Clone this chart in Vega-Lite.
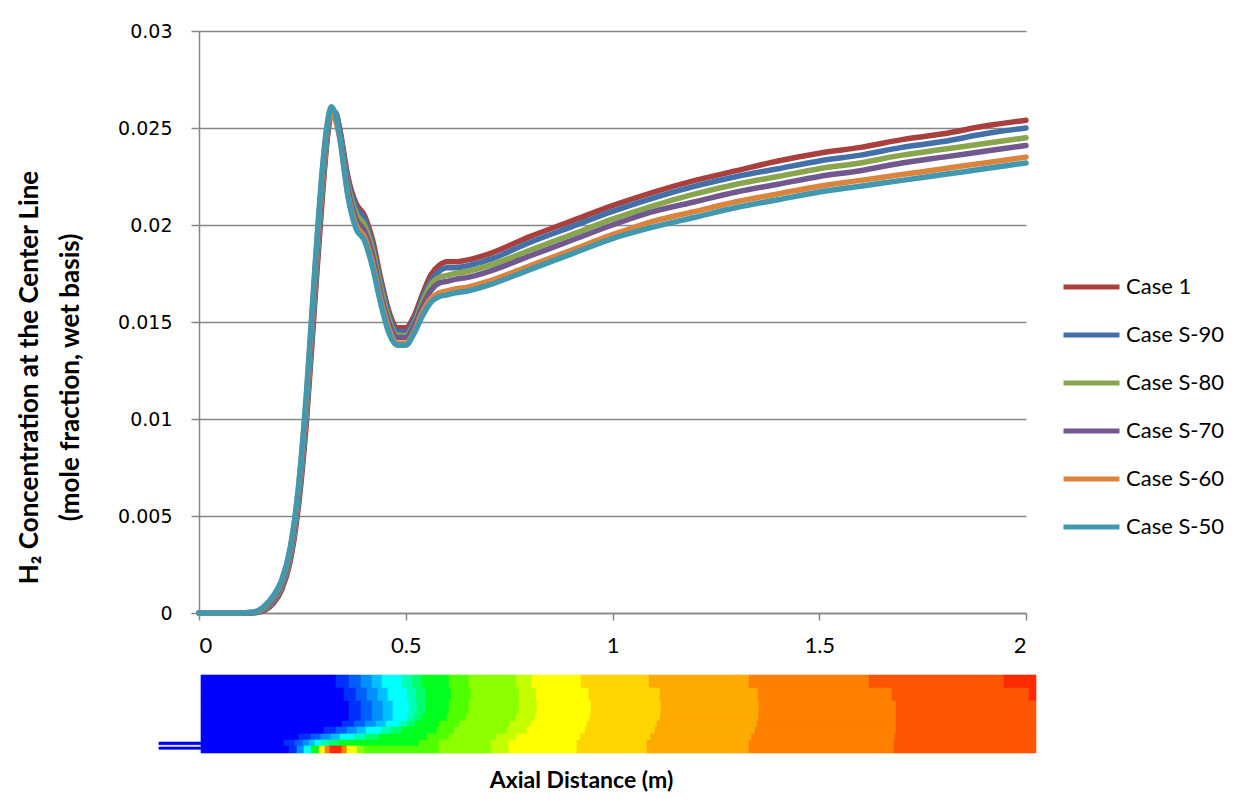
{
  "$schema": "https://vega.github.io/schema/vega-lite/v6.json",
  "padding": {"left": 16, "top": 22, "right": 0, "bottom": 0},
  "background": "white",
  "spacing": 18,
  "config": {"view": {"stroke": null}, "font": "Lato"},
  "datasets": {
    "h2": [
      {"x": 0, "Case 1": 0, "Case S-90": 0, "Case S-80": 0, "Case S-70": 0, "Case S-60": 0, "Case S-50": 0},
      {"x": 0.05, "Case 1": 0, "Case S-90": 0, "Case S-80": 0, "Case S-70": 0, "Case S-60": 0, "Case S-50": 0},
      {"x": 0.1, "Case 1": 0, "Case S-90": 0, "Case S-80": 0, "Case S-70": 0, "Case S-60": 0, "Case S-50": 0},
      {"x": 0.12, "Case 1": 0, "Case S-90": 0, "Case S-80": 0.00001, "Case S-70": 0.00001, "Case S-60": 0.00002, "Case S-50": 0.00002},
      {"x": 0.14, "Case 1": 0.00003, "Case S-90": 0.00004, "Case S-80": 0.00006, "Case S-70": 0.00007, "Case S-60": 0.00009, "Case S-50": 0.0001},
      {"x": 0.16, "Case 1": 0.00015, "Case S-90": 0.0002, "Case S-80": 0.00025, "Case S-70": 0.0003, "Case S-60": 0.00037, "Case S-50": 0.0004},
      {"x": 0.18, "Case 1": 0.0005, "Case S-90": 0.00057, "Case S-80": 0.00066, "Case S-70": 0.00073, "Case S-60": 0.00084, "Case S-50": 0.0009},
      {"x": 0.2, "Case 1": 0.0012, "Case S-90": 0.00129, "Case S-80": 0.0014, "Case S-70": 0.00149, "Case S-60": 0.00163, "Case S-50": 0.0017},
      {"x": 0.22, "Case 1": 0.0026, "Case S-90": 0.00273, "Case S-80": 0.00287, "Case S-70": 0.00301, "Case S-60": 0.0032, "Case S-50": 0.0033},
      {"x": 0.24, "Case 1": 0.0054, "Case S-90": 0.0056, "Case S-80": 0.0058, "Case S-70": 0.006, "Case S-60": 0.0063, "Case S-50": 0.0064},
      {"x": 0.26, "Case 1": 0.0099, "Case S-90": 0.0102, "Case S-80": 0.0105, "Case S-70": 0.0108, "Case S-60": 0.0112, "Case S-50": 0.0114},
      {"x": 0.28, "Case 1": 0.016, "Case S-90": 0.0163, "Case S-80": 0.0167, "Case S-70": 0.017, "Case S-60": 0.0175, "Case S-50": 0.0177},
      {"x": 0.3, "Case 1": 0.0219, "Case S-90": 0.0222, "Case S-80": 0.0224, "Case S-70": 0.0227, "Case S-60": 0.0231, "Case S-50": 0.0233},
      {"x": 0.31, "Case 1": 0.0244, "Case S-90": 0.0245, "Case S-80": 0.0247, "Case S-70": 0.0249, "Case S-60": 0.0251, "Case S-50": 0.0252},
      {"x": 0.32, "Case 1": 0.0257, "Case S-90": 0.0258, "Case S-80": 0.0259, "Case S-70": 0.0259, "Case S-60": 0.0257, "Case S-50": 0.0261},
      {"x": 0.33, "Case 1": 0.0258, "Case S-90": 0.0258, "Case S-80": 0.0258, "Case S-70": 0.0257, "Case S-60": 0.0254, "Case S-50": 0.0257},
      {"x": 0.34, "Case 1": 0.025, "Case S-90": 0.0249, "Case S-80": 0.0248, "Case S-70": 0.0248, "Case S-60": 0.0245, "Case S-50": 0.0246},
      {"x": 0.36, "Case 1": 0.0225, "Case S-90": 0.0223, "Case S-80": 0.0221, "Case S-70": 0.0219, "Case S-60": 0.0216, "Case S-50": 0.0215},
      {"x": 0.38, "Case 1": 0.0211, "Case S-90": 0.0209, "Case S-80": 0.0206, "Case S-70": 0.0203, "Case S-60": 0.02, "Case S-50": 0.0198},
      {"x": 0.4, "Case 1": 0.0205, "Case S-90": 0.0203, "Case S-80": 0.02, "Case S-70": 0.0197, "Case S-60": 0.0194, "Case S-50": 0.0192},
      {"x": 0.42, "Case 1": 0.0192, "Case S-90": 0.0189, "Case S-80": 0.0187, "Case S-70": 0.0184, "Case S-60": 0.018, "Case S-50": 0.0178},
      {"x": 0.44, "Case 1": 0.0172, "Case S-90": 0.017, "Case S-80": 0.0167, "Case S-70": 0.0164, "Case S-60": 0.0161, "Case S-50": 0.0159},
      {"x": 0.46, "Case 1": 0.0155, "Case S-90": 0.0153, "Case S-80": 0.0151, "Case S-70": 0.0149, "Case S-60": 0.0146, "Case S-50": 0.0144},
      {"x": 0.48, "Case 1": 0.0147, "Case S-90": 0.0145, "Case S-80": 0.0143, "Case S-70": 0.0142, "Case S-60": 0.0139, "Case S-50": 0.0138},
      {"x": 0.5, "Case 1": 0.0147, "Case S-90": 0.0145, "Case S-80": 0.0143, "Case S-70": 0.0142, "Case S-60": 0.0139, "Case S-50": 0.0138},
      {"x": 0.52, "Case 1": 0.0153, "Case S-90": 0.0151, "Case S-80": 0.0149, "Case S-70": 0.0148, "Case S-60": 0.0145, "Case S-50": 0.0144},
      {"x": 0.54, "Case 1": 0.0164, "Case S-90": 0.0162, "Case S-80": 0.016, "Case S-70": 0.0158, "Case S-60": 0.0155, "Case S-50": 0.0153},
      {"x": 0.56, "Case 1": 0.0174, "Case S-90": 0.0171, "Case S-80": 0.0169, "Case S-70": 0.0166, "Case S-60": 0.0162, "Case S-50": 0.016},
      {"x": 0.58, "Case 1": 0.0179, "Case S-90": 0.0176, "Case S-80": 0.0173, "Case S-70": 0.017, "Case S-60": 0.0165, "Case S-50": 0.0163},
      {"x": 0.6, "Case 1": 0.0181, "Case S-90": 0.0178, "Case S-80": 0.0174, "Case S-70": 0.0171, "Case S-60": 0.0166, "Case S-50": 0.0164},
      {"x": 0.62, "Case 1": 0.0181, "Case S-90": 0.0178, "Case S-80": 0.0175, "Case S-70": 0.0172, "Case S-60": 0.0167, "Case S-50": 0.0165},
      {"x": 0.65, "Case 1": 0.0182, "Case S-90": 0.0179, "Case S-80": 0.0176, "Case S-70": 0.0173, "Case S-60": 0.0168, "Case S-50": 0.0166},
      {"x": 0.7, "Case 1": 0.0185, "Case S-90": 0.0182, "Case S-80": 0.0179, "Case S-70": 0.0176, "Case S-60": 0.0171, "Case S-50": 0.0169},
      {"x": 0.8, "Case 1": 0.0194, "Case S-90": 0.0191, "Case S-80": 0.0187, "Case S-70": 0.0184, "Case S-60": 0.0179, "Case S-50": 0.0177},
      {"x": 0.9, "Case 1": 0.0202, "Case S-90": 0.0199, "Case S-80": 0.0195, "Case S-70": 0.0192, "Case S-60": 0.0187, "Case S-50": 0.0185},
      {"x": 1.0, "Case 1": 0.021, "Case S-90": 0.0207, "Case S-80": 0.0203, "Case S-70": 0.02, "Case S-60": 0.0195, "Case S-50": 0.0193},
      {"x": 1.1, "Case 1": 0.0217, "Case S-90": 0.0214, "Case S-80": 0.021, "Case S-70": 0.0207, "Case S-60": 0.0202, "Case S-50": 0.0199},
      {"x": 1.2, "Case 1": 0.0223, "Case S-90": 0.022, "Case S-80": 0.0216, "Case S-70": 0.0212, "Case S-60": 0.0207, "Case S-50": 0.0204},
      {"x": 1.3, "Case 1": 0.0228, "Case S-90": 0.0225, "Case S-80": 0.0221, "Case S-70": 0.0217, "Case S-60": 0.0212, "Case S-50": 0.0209},
      {"x": 1.4, "Case 1": 0.0233, "Case S-90": 0.0229, "Case S-80": 0.0225, "Case S-70": 0.0221, "Case S-60": 0.0216, "Case S-50": 0.0213},
      {"x": 1.5, "Case 1": 0.0237, "Case S-90": 0.0233, "Case S-80": 0.0229, "Case S-70": 0.0225, "Case S-60": 0.022, "Case S-50": 0.0217},
      {"x": 1.6, "Case 1": 0.024, "Case S-90": 0.0236, "Case S-80": 0.0232, "Case S-70": 0.0228, "Case S-60": 0.0223, "Case S-50": 0.022},
      {"x": 1.7, "Case 1": 0.0244, "Case S-90": 0.024, "Case S-80": 0.0236, "Case S-70": 0.0232, "Case S-60": 0.0226, "Case S-50": 0.0223},
      {"x": 1.8, "Case 1": 0.0247, "Case S-90": 0.0243, "Case S-80": 0.0239, "Case S-70": 0.0235, "Case S-60": 0.0229, "Case S-50": 0.0226},
      {"x": 1.9, "Case 1": 0.0251, "Case S-90": 0.0247, "Case S-80": 0.0242, "Case S-70": 0.0238, "Case S-60": 0.0232, "Case S-50": 0.0229},
      {"x": 2.0, "Case 1": 0.0254, "Case S-90": 0.025, "Case S-80": 0.0245, "Case S-70": 0.0241, "Case S-60": 0.0235, "Case S-50": 0.0232}
    ],
    "contour": [
      {"z0": 0.0048, "z1": 0.3313, "r0": 0.833, "r1": 1, "lvl": 0},
      {"z0": 0.3313, "z1": 0.3628, "r0": 0.833, "r1": 1, "lvl": 1},
      {"z0": 0.3628, "z1": 0.3918, "r0": 0.833, "r1": 1, "lvl": 2},
      {"z0": 0.3918, "z1": 0.4184, "r0": 0.833, "r1": 1, "lvl": 3},
      {"z0": 0.4184, "z1": 0.4426, "r0": 0.833, "r1": 1, "lvl": 4},
      {"z0": 0.4426, "z1": 0.4909, "r0": 0.833, "r1": 1, "lvl": 5},
      {"z0": 0.4909, "z1": 0.5151, "r0": 0.833, "r1": 1, "lvl": 6},
      {"z0": 0.5151, "z1": 0.5393, "r0": 0.833, "r1": 1, "lvl": 7},
      {"z0": 0.5393, "z1": 0.6046, "r0": 0.833, "r1": 1, "lvl": 8},
      {"z0": 0.6046, "z1": 0.653, "r0": 0.833, "r1": 1, "lvl": 9},
      {"z0": 0.653, "z1": 0.7666, "r0": 0.833, "r1": 1, "lvl": 10},
      {"z0": 0.7666, "z1": 0.8053, "r0": 0.833, "r1": 1, "lvl": 11},
      {"z0": 0.8053, "z1": 0.9238, "r0": 0.833, "r1": 1, "lvl": 12},
      {"z0": 0.9238, "z1": 1.0883, "r0": 0.833, "r1": 1, "lvl": 13},
      {"z0": 1.0883, "z1": 1.3301, "r0": 0.833, "r1": 1, "lvl": 14},
      {"z0": 1.3301, "z1": 1.6203, "r0": 0.833, "r1": 1, "lvl": 15},
      {"z0": 1.6203, "z1": 1.9468, "r0": 0.833, "r1": 1, "lvl": 16},
      {"z0": 1.9468, "z1": 2.0242, "r0": 0.833, "r1": 1, "lvl": 17},

      {"z0": 0.0048, "z1": 0.3507, "r0": 0.667, "r1": 0.833, "lvl": 0},
      {"z0": 0.3507, "z1": 0.3797, "r0": 0.667, "r1": 0.833, "lvl": 1},
      {"z0": 0.3797, "z1": 0.4063, "r0": 0.667, "r1": 0.833, "lvl": 2},
      {"z0": 0.4063, "z1": 0.4329, "r0": 0.667, "r1": 0.833, "lvl": 3},
      {"z0": 0.4329, "z1": 0.4571, "r0": 0.667, "r1": 0.833, "lvl": 4},
      {"z0": 0.4571, "z1": 0.503, "r0": 0.667, "r1": 0.833, "lvl": 5},
      {"z0": 0.503, "z1": 0.5248, "r0": 0.667, "r1": 0.833, "lvl": 6},
      {"z0": 0.5248, "z1": 0.549, "r0": 0.667, "r1": 0.833, "lvl": 7},
      {"z0": 0.549, "z1": 0.6094, "r0": 0.667, "r1": 0.833, "lvl": 8},
      {"z0": 0.6094, "z1": 0.6578, "r0": 0.667, "r1": 0.833, "lvl": 9},
      {"z0": 0.6578, "z1": 0.7739, "r0": 0.667, "r1": 0.833, "lvl": 10},
      {"z0": 0.7739, "z1": 0.815, "r0": 0.667, "r1": 0.833, "lvl": 11},
      {"z0": 0.815, "z1": 0.9432, "r0": 0.667, "r1": 0.833, "lvl": 12},
      {"z0": 0.9432, "z1": 1.1149, "r0": 0.667, "r1": 0.833, "lvl": 13},
      {"z0": 1.1149, "z1": 1.3519, "r0": 0.667, "r1": 0.833, "lvl": 14},
      {"z0": 1.3519, "z1": 1.6759, "r0": 0.667, "r1": 0.833, "lvl": 15},
      {"z0": 1.6759, "z1": 2.0073, "r0": 0.667, "r1": 0.833, "lvl": 16},
      {"z0": 2.0073, "z1": 2.0242, "r0": 0.667, "r1": 0.833, "lvl": 17},

      {"z0": 0.0048, "z1": 0.3628, "r0": 0.5, "r1": 0.667, "lvl": 0},
      {"z0": 0.3628, "z1": 0.3918, "r0": 0.5, "r1": 0.667, "lvl": 1},
      {"z0": 0.3918, "z1": 0.4184, "r0": 0.5, "r1": 0.667, "lvl": 2},
      {"z0": 0.4184, "z1": 0.445, "r0": 0.5, "r1": 0.667, "lvl": 3},
      {"z0": 0.445, "z1": 0.4692, "r0": 0.5, "r1": 0.667, "lvl": 4},
      {"z0": 0.4692, "z1": 0.5079, "r0": 0.5, "r1": 0.667, "lvl": 5},
      {"z0": 0.5079, "z1": 0.5272, "r0": 0.5, "r1": 0.667, "lvl": 6},
      {"z0": 0.5272, "z1": 0.549, "r0": 0.5, "r1": 0.667, "lvl": 7},
      {"z0": 0.549, "z1": 0.6046, "r0": 0.5, "r1": 0.667, "lvl": 8},
      {"z0": 0.6046, "z1": 0.653, "r0": 0.5, "r1": 0.667, "lvl": 9},
      {"z0": 0.653, "z1": 0.7739, "r0": 0.5, "r1": 0.667, "lvl": 10},
      {"z0": 0.7739, "z1": 0.8174, "r0": 0.5, "r1": 0.667, "lvl": 11},
      {"z0": 0.8174, "z1": 0.948, "r0": 0.5, "r1": 0.667, "lvl": 12},
      {"z0": 0.948, "z1": 1.1173, "r0": 0.5, "r1": 0.667, "lvl": 13},
      {"z0": 1.1173, "z1": 1.3543, "r0": 0.5, "r1": 0.667, "lvl": 14},
      {"z0": 1.3543, "z1": 1.6856, "r0": 0.5, "r1": 0.667, "lvl": 15},
      {"z0": 1.6856, "z1": 2.0242, "r0": 0.5, "r1": 0.667, "lvl": 16},

      {"z0": 0.0048, "z1": 0.3628, "r0": 0.41, "r1": 0.5, "lvl": 0},
      {"z0": 0.3628, "z1": 0.3918, "r0": 0.41, "r1": 0.5, "lvl": 1},
      {"z0": 0.3918, "z1": 0.4184, "r0": 0.41, "r1": 0.5, "lvl": 2},
      {"z0": 0.4184, "z1": 0.445, "r0": 0.41, "r1": 0.5, "lvl": 3},
      {"z0": 0.445, "z1": 0.4692, "r0": 0.41, "r1": 0.5, "lvl": 4},
      {"z0": 0.4692, "z1": 0.503, "r0": 0.41, "r1": 0.5, "lvl": 5},
      {"z0": 0.503, "z1": 0.52, "r0": 0.41, "r1": 0.5, "lvl": 6},
      {"z0": 0.52, "z1": 0.5393, "r0": 0.41, "r1": 0.5, "lvl": 7},
      {"z0": 0.5393, "z1": 0.5998, "r0": 0.41, "r1": 0.5, "lvl": 8},
      {"z0": 0.5998, "z1": 0.6457, "r0": 0.41, "r1": 0.5, "lvl": 9},
      {"z0": 0.6457, "z1": 0.7666, "r0": 0.41, "r1": 0.5, "lvl": 10},
      {"z0": 0.7666, "z1": 0.8126, "r0": 0.41, "r1": 0.5, "lvl": 11},
      {"z0": 0.8126, "z1": 0.9456, "r0": 0.41, "r1": 0.5, "lvl": 12},
      {"z0": 0.9456, "z1": 1.1149, "r0": 0.41, "r1": 0.5, "lvl": 13},
      {"z0": 1.1149, "z1": 1.3531, "r0": 0.41, "r1": 0.5, "lvl": 14},
      {"z0": 1.3531, "z1": 1.6856, "r0": 0.41, "r1": 0.5, "lvl": 15},
      {"z0": 1.6856, "z1": 2.0242, "r0": 0.41, "r1": 0.5, "lvl": 16},

      {"z0": 0.0048, "z1": 0.3458, "r0": 0.333, "r1": 0.41, "lvl": 0},
      {"z0": 0.3458, "z1": 0.3748, "r0": 0.333, "r1": 0.41, "lvl": 1},
      {"z0": 0.3748, "z1": 0.4015, "r0": 0.333, "r1": 0.41, "lvl": 2},
      {"z0": 0.4015, "z1": 0.4281, "r0": 0.333, "r1": 0.41, "lvl": 3},
      {"z0": 0.4281, "z1": 0.4522, "r0": 0.333, "r1": 0.41, "lvl": 4},
      {"z0": 0.4522, "z1": 0.4837, "r0": 0.333, "r1": 0.41, "lvl": 5},
      {"z0": 0.4837, "z1": 0.503, "r0": 0.333, "r1": 0.41, "lvl": 6},
      {"z0": 0.503, "z1": 0.5224, "r0": 0.333, "r1": 0.41, "lvl": 7},
      {"z0": 0.5224, "z1": 0.5804, "r0": 0.333, "r1": 0.41, "lvl": 8},
      {"z0": 0.5804, "z1": 0.6313, "r0": 0.333, "r1": 0.41, "lvl": 9},
      {"z0": 0.6313, "z1": 0.7521, "r0": 0.333, "r1": 0.41, "lvl": 10},
      {"z0": 0.7521, "z1": 0.8029, "r0": 0.333, "r1": 0.41, "lvl": 11},
      {"z0": 0.8029, "z1": 0.9383, "r0": 0.333, "r1": 0.41, "lvl": 12},
      {"z0": 0.9383, "z1": 1.1077, "r0": 0.333, "r1": 0.41, "lvl": 13},
      {"z0": 1.1077, "z1": 1.3495, "r0": 0.333, "r1": 0.41, "lvl": 14},
      {"z0": 1.3495, "z1": 1.6856, "r0": 0.333, "r1": 0.41, "lvl": 15},
      {"z0": 1.6856, "z1": 2.0242, "r0": 0.333, "r1": 0.41, "lvl": 16},

      {"z0": 0.0048, "z1": 0.3023, "r0": 0.244, "r1": 0.333, "lvl": 0},
      {"z0": 0.3023, "z1": 0.3313, "r0": 0.244, "r1": 0.333, "lvl": 1},
      {"z0": 0.3313, "z1": 0.3579, "r0": 0.244, "r1": 0.333, "lvl": 2},
      {"z0": 0.3579, "z1": 0.3821, "r0": 0.244, "r1": 0.333, "lvl": 3},
      {"z0": 0.3821, "z1": 0.4039, "r0": 0.244, "r1": 0.333, "lvl": 4},
      {"z0": 0.4039, "z1": 0.4401, "r0": 0.244, "r1": 0.333, "lvl": 5},
      {"z0": 0.4401, "z1": 0.4643, "r0": 0.244, "r1": 0.333, "lvl": 6},
      {"z0": 0.4643, "z1": 0.4909, "r0": 0.244, "r1": 0.333, "lvl": 7},
      {"z0": 0.4909, "z1": 0.5756, "r0": 0.244, "r1": 0.333, "lvl": 8},
      {"z0": 0.5756, "z1": 0.6167, "r0": 0.244, "r1": 0.333, "lvl": 9},
      {"z0": 0.6167, "z1": 0.7449, "r0": 0.244, "r1": 0.333, "lvl": 10},
      {"z0": 0.7449, "z1": 0.7933, "r0": 0.244, "r1": 0.333, "lvl": 11},
      {"z0": 0.7933, "z1": 0.9335, "r0": 0.244, "r1": 0.333, "lvl": 12},
      {"z0": 0.9335, "z1": 1.1028, "r0": 0.244, "r1": 0.333, "lvl": 13},
      {"z0": 1.1028, "z1": 1.3446, "r0": 0.244, "r1": 0.333, "lvl": 14},
      {"z0": 1.3446, "z1": 1.6856, "r0": 0.244, "r1": 0.333, "lvl": 15},
      {"z0": 1.6856, "z1": 2.0242, "r0": 0.244, "r1": 0.333, "lvl": 16},

      {"z0": 0.0048, "z1": 0.2418, "r0": 0.167, "r1": 0.244, "lvl": 0},
      {"z0": 0.2418, "z1": 0.2709, "r0": 0.167, "r1": 0.244, "lvl": 1},
      {"z0": 0.2709, "z1": 0.295, "r0": 0.167, "r1": 0.244, "lvl": 2},
      {"z0": 0.295, "z1": 0.3192, "r0": 0.167, "r1": 0.244, "lvl": 3},
      {"z0": 0.3192, "z1": 0.341, "r0": 0.167, "r1": 0.244, "lvl": 4},
      {"z0": 0.341, "z1": 0.3748, "r0": 0.167, "r1": 0.244, "lvl": 5},
      {"z0": 0.3748, "z1": 0.4039, "r0": 0.167, "r1": 0.244, "lvl": 6},
      {"z0": 0.4039, "z1": 0.4353, "r0": 0.167, "r1": 0.244, "lvl": 7},
      {"z0": 0.4353, "z1": 0.5514, "r0": 0.167, "r1": 0.244, "lvl": 8},
      {"z0": 0.5514, "z1": 0.6046, "r0": 0.167, "r1": 0.244, "lvl": 9},
      {"z0": 0.6046, "z1": 0.72, "r0": 0.167, "r1": 0.244, "lvl": 10},
      {"z0": 0.72, "z1": 0.768, "r0": 0.167, "r1": 0.244, "lvl": 11},
      {"z0": 0.768, "z1": 0.922, "r0": 0.167, "r1": 0.244, "lvl": 12},
      {"z0": 0.922, "z1": 1.092, "r0": 0.167, "r1": 0.244, "lvl": 13},
      {"z0": 1.092, "z1": 1.336, "r0": 0.167, "r1": 0.244, "lvl": 14},
      {"z0": 1.336, "z1": 1.683, "r0": 0.167, "r1": 0.244, "lvl": 15},
      {"z0": 1.683, "z1": 2.0242, "r0": 0.167, "r1": 0.244, "lvl": 16},

      {"z0": 0.0048, "z1": 0.2056, "r0": 0.09, "r1": 0.167, "lvl": 0},
      {"z0": 0.2056, "z1": 0.2322, "r0": 0.09, "r1": 0.167, "lvl": 1},
      {"z0": 0.2322, "z1": 0.2515, "r0": 0.09, "r1": 0.167, "lvl": 2},
      {"z0": 0.2515, "z1": 0.266, "r0": 0.09, "r1": 0.167, "lvl": 3},
      {"z0": 0.266, "z1": 0.2805, "r0": 0.09, "r1": 0.167, "lvl": 4},
      {"z0": 0.2805, "z1": 0.295, "r0": 0.09, "r1": 0.167, "lvl": 5},
      {"z0": 0.295, "z1": 0.3144, "r0": 0.09, "r1": 0.167, "lvl": 6},
      {"z0": 0.3144, "z1": 0.3386, "r0": 0.09, "r1": 0.167, "lvl": 7},
      {"z0": 0.3386, "z1": 0.532, "r0": 0.09, "r1": 0.167, "lvl": 8},
      {"z0": 0.532, "z1": 0.5804, "r0": 0.09, "r1": 0.167, "lvl": 9},
      {"z0": 0.5804, "z1": 0.7062, "r0": 0.09, "r1": 0.167, "lvl": 10},
      {"z0": 0.7062, "z1": 0.7497, "r0": 0.09, "r1": 0.167, "lvl": 11},
      {"z0": 0.7497, "z1": 0.9141, "r0": 0.09, "r1": 0.167, "lvl": 12},
      {"z0": 0.9141, "z1": 1.0834, "r0": 0.09, "r1": 0.167, "lvl": 13},
      {"z0": 1.0834, "z1": 1.3301, "r0": 0.09, "r1": 0.167, "lvl": 14},
      {"z0": 1.3301, "z1": 1.6808, "r0": 0.09, "r1": 0.167, "lvl": 15},
      {"z0": 1.6808, "z1": 2.0242, "r0": 0.09, "r1": 0.167, "lvl": 16},

      {"z0": 0.0048, "z1": 0.2177, "r0": 0, "r1": 0.09, "lvl": 0},
      {"z0": 0.2177, "z1": 0.237, "r0": 0, "r1": 0.09, "lvl": 1},
      {"z0": 0.237, "z1": 0.2539, "r0": 0, "r1": 0.09, "lvl": 3},
      {"z0": 0.2539, "z1": 0.2709, "r0": 0, "r1": 0.09, "lvl": 5},
      {"z0": 0.2709, "z1": 0.2902, "r0": 0, "r1": 0.09, "lvl": 8},
      {"z0": 0.2902, "z1": 0.3047, "r0": 0, "r1": 0.09, "lvl": 12},
      {"z0": 0.3047, "z1": 0.3168, "r0": 0, "r1": 0.09, "lvl": 15},
      {"z0": 0.3168, "z1": 0.3458, "r0": 0, "r1": 0.09, "lvl": 17},
      {"z0": 0.3458, "z1": 0.3579, "r0": 0, "r1": 0.09, "lvl": 15},
      {"z0": 0.3579, "z1": 0.3821, "r0": 0, "r1": 0.09, "lvl": 12},
      {"z0": 0.3821, "z1": 0.4015, "r0": 0, "r1": 0.09, "lvl": 10},
      {"z0": 0.4015, "z1": 0.5804, "r0": 0, "r1": 0.09, "lvl": 9},
      {"z0": 0.5804, "z1": 0.7062, "r0": 0, "r1": 0.09, "lvl": 10},
      {"z0": 0.7062, "z1": 0.7497, "r0": 0, "r1": 0.09, "lvl": 11},
      {"z0": 0.7497, "z1": 0.9141, "r0": 0, "r1": 0.09, "lvl": 12},
      {"z0": 0.9141, "z1": 1.0834, "r0": 0, "r1": 0.09, "lvl": 13},
      {"z0": 1.0834, "z1": 1.3301, "r0": 0, "r1": 0.09, "lvl": 14},
      {"z0": 1.3301, "z1": 1.6808, "r0": 0, "r1": 0.09, "lvl": 15},
      {"z0": 1.6808, "z1": 2.0242, "r0": 0, "r1": 0.09, "lvl": 16},

      {"z0": -0.097, "z1": 0.0048, "r0": 0.106, "r1": 0.141, "lvl": 0},
      {"z0": -0.097, "z1": 0.0048, "r0": 0.047, "r1": 0.077, "lvl": 0}
    ]
  },
  "vconcat": [
    {
      "width": 827,
      "height": 582,
      "data": {"name": "h2"},
      "transform": [{"fold": ["Case 1", "Case S-90", "Case S-80", "Case S-70", "Case S-60", "Case S-50"], "as": ["case", "h2"]}],
      "mark": {"type": "line", "interpolate": "monotone", "strokeWidth": 5.5, "strokeCap": "round", "strokeJoin": "round"},
      "encoding": {
        "x": {
          "field": "x", "type": "quantitative",
          "scale": {"domain": [0, 2], "nice": false},
          "axis": {"values": [0, 0.5, 1, 1.5, 2], "format": "~g", "title": null, "grid": false,
            "labelFont": "Lato", "labelFontSize": 22, "labelColor": "#000", "labelPadding": 15,
            "tickSize": 7, "tickColor": "#868686", "tickWidth": 1.5, "domainColor": "#868686", "domainWidth": 1.5}
        },
        "y": {
          "field": "h2", "type": "quantitative",
          "scale": {"domain": [0, 0.03], "nice": false},
          "axis": {"values": [0, 0.005, 0.01, 0.015, 0.02, 0.025, 0.03], "format": "~g",
            "labelFont": "DejaVu Sans", "labelFontSize": 19, "labelColor": "#000", "labelPadding": 19,
            "tickSize": 8, "tickColor": "#868686", "tickWidth": 1.5, "domainColor": "#868686", "domainWidth": 1.5,
            "grid": true, "gridColor": "#868686", "gridWidth": 1.5,
            "title": ["H₂ Concentration at the Center Line", "(mole fraction, wet basis)"],
            "titleFont": "Lato", "titleFontSize": 26, "titleFontWeight": "bold", "titleColor": "#000",
            "titleLineHeight": 41, "titleX": -157, "titleY": 346}
        },
        "color": {
          "field": "case", "type": "nominal",
          "scale": {"domain": ["Case 1", "Case S-90", "Case S-80", "Case S-70", "Case S-60", "Case S-50"],
                    "range": ["#A9403D", "#4470A9", "#89A54E", "#71588F", "#DB843D", "#4198AF"]},
          "legend": {"title": null, "orient": "none", "legendX": 862, "legendY": 246, "padding": 0,
            "symbolType": "stroke", "symbolSize": 3136, "symbolStrokeWidth": 5,
            "labelFont": "Lato", "labelFontSize": 22, "labelColor": "#000", "labelOffset": 4,
            "rowPadding": 26, "clipHeight": 20}
        }
      }
    },
    {
      "width": 827,
      "height": 78,
      "data": {"name": "contour"},
      "mark": {"type": "rect", "clip": false, "strokeWidth": 0.6},
      "encoding": {
        "x": {
          "field": "z0", "type": "quantitative",
          "scale": {"domain": [0, 2], "nice": false, "zero": false},
          "axis": {"title": "Axial Distance (m)", "labels": false, "ticks": false, "domain": false, "grid": false,
            "titleFont": "Lato", "titleFontSize": 23, "titleFontWeight": "bold", "titleColor": "#000",
            "titleX": 382, "titlePadding": 16}
        },
        "x2": {"field": "z1"},
        "y": {"field": "r0", "type": "quantitative", "scale": {"domain": [0, 1], "nice": false}, "axis": null},
        "y2": {"field": "r1"},
        "color": {
          "field": "lvl", "type": "ordinal",
          "scale": {"domain": [0, 1, 2, 3, 4, 5, 6, 7, 8, 9, 10, 11, 12, 13, 14, 15, 16, 17],
                    "range": ["#0000FF", "#0030FF", "#0060FF", "#0090FF", "#00C0FF", "#00FFFF", "#00FFB4", "#00FF6E", "#00FF1E", "#50FF00", "#8CFF00", "#C3FF00", "#FFFF00", "#FFD500", "#FFAA00", "#FF8000", "#FF5500", "#FF2A00"]},
          "legend": null
        },
        "stroke": {
          "field": "lvl", "type": "ordinal",
          "scale": {"domain": [0, 1, 2, 3, 4, 5, 6, 7, 8, 9, 10, 11, 12, 13, 14, 15, 16, 17],
                    "range": ["#0000FF", "#0030FF", "#0060FF", "#0090FF", "#00C0FF", "#00FFFF", "#00FFB4", "#00FF6E", "#00FF1E", "#50FF00", "#8CFF00", "#C3FF00", "#FFFF00", "#FFD500", "#FFAA00", "#FF8000", "#FF5500", "#FF2A00"]},
          "legend": null
        }
      }
    }
  ],
  "resolve": {"scale": {"x": "independent", "color": "independent", "stroke": "independent"}, "legend": {"color": "independent"}}
}
